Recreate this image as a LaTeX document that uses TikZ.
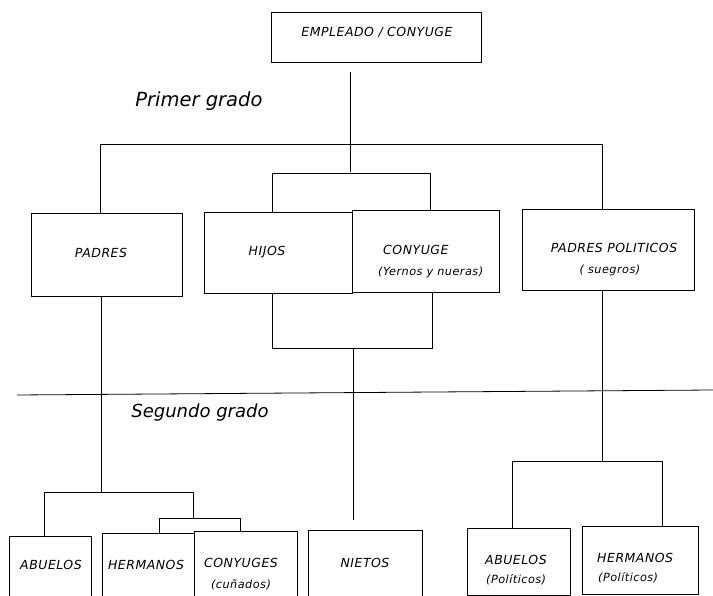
\documentclass[tikz,border=0pt]{standalone}
\usepackage{fontspec}
\setmainfont{DejaVu Sans}
\newfontfamily\lblfont[LetterSpace=4]{DejaVu Sans}
\begin{document}
\begin{tikzpicture}[x=1pt,y=-1pt,
  box/.style={draw,line width=0.8pt,rectangle,inner sep=0pt,outer sep=0pt},
  lbl/.style={inner sep=0pt,font=\lblfont\fontsize{12.5}{14}\selectfont\itshape},
  sml/.style={inner sep=0pt,font=\lblfont\fontsize{11.3}{13}\selectfont\itshape},
  big/.style={inner sep=0pt,font=\fontsize{19.5}{22}\selectfont\itshape},
  ln/.style={line width=0.8pt}]
\useasboundingbox (0,0) rectangle (713,596);
\clip (0,0) rectangle (713,596);
% boxes
\node[box,minimum width=210,minimum height=50] (top) at (376,37) {};
\node[box,minimum width=151,minimum height=83] (padres) at (106.5,254.5) {};
\node[box,minimum width=148,minimum height=81] (hijos) at (278,252.5) {};
\node[box,minimum width=147,minimum height=82] (cony) at (425.5,251) {};
\node[box,minimum width=172,minimum height=81] (pp) at (608,249.5) {};
\node[box,minimum width=82,minimum height=66] (abu) at (50,569) {};
\node[box,minimum width=92,minimum height=69] (her) at (148,567.5) {};
\node[box,minimum width=103,minimum height=71] (cys) at (245.5,566.5) {};
\node[box,minimum width=114,minimum height=72] (nie) at (365,566) {};
\node[box,minimum width=103,minimum height=67] (abp) at (518.5,561.5) {};
\node[box,minimum width=116,minimum height=68] (hep) at (640,560) {};
% labels
\node[lbl] (tTop) at (377,32) {EMPLEADO / CONYUGE};
\node[big] (tPrim) at (199,101) {Primer grado};
\node[big,font=\fontsize{18}{21}\selectfont\itshape] (tSeg) at (200,413) {Segundo grado};
\node[lbl] (tPad) at (101,253) {PADRES};
\node[lbl] (tHij) at (267,252) {HIJOS};
\node[lbl,anchor=west] (tCon) at (383,250) {CONYUGE};
\node[sml,anchor=west] (tYer) at (378,272) {(Yernos y nueras)};
\node[lbl] (tPP) at (614,248) {PADRES POLITICOS};
\node[sml] (tSue) at (610,270) {( suegros)};
\node[lbl] (tAbu) at (51,565) {ABUELOS};
\node[lbl] (tHer) at (146,565) {HERMANOS};
\node[lbl] (tCys) at (241,563) {CONYUGES};
\node[sml] (tCun) at (241,585) {(cuñados)};
\node[lbl] (tNie) at (365,563) {NIETOS};
\node[lbl,anchor=west] (tAbp) at (485,560) {ABUELOS};
\node[sml,anchor=west] (tAbp2) at (486,580) {(Políticos)};
\node[lbl,anchor=west] (tHep) at (597,558) {HERMANOS};
\node[sml,anchor=west] (tHep2) at (598,578) {(Políticos)};
% connectors
\coordinate (tstem) at (350,72);
\draw[ln] (tstem) -- (350,172);
\draw[ln] ([xshift=-6.5pt]padres.north) -- ++(0,-69) -| ([xshift=-6pt]pp.north);
\draw[ln] ([xshift=-6pt]hijos.north) -- ++(0,-39) -| ([xshift=4.5pt]cony.north);
\draw[ln] ([xshift=-6pt]hijos.south) -- ++(0,55) -| ([xshift=6.5pt]cony.south);
\coordinate (nstem) at (353,348);
\draw[ln] (nstem) -- (353,520);
% divider
\coordinate (divL) at (17,395);
\coordinate (divR) at (713,390);
\draw[ln] (divL) -- (divR);
% padres -> second degree
\draw[ln] ([xshift=-5.5pt]padres.south) -- (101,492);
\draw[ln] ([xshift=-6pt]abu.north) -- (44,492) -| (193,518);
\draw[ln] ([xshift=11pt]her.north) -- (159,518) -| ([xshift=-5.5pt]cys.north);
% padres politicos -> second degree
\draw[ln] ([xshift=-6pt]pp.south) -- (602,461);
\draw[ln] ([xshift=-6.5pt]abp.north) -- (512,461) -| ([xshift=22pt]hep.north);
\end{tikzpicture}
\end{document}
